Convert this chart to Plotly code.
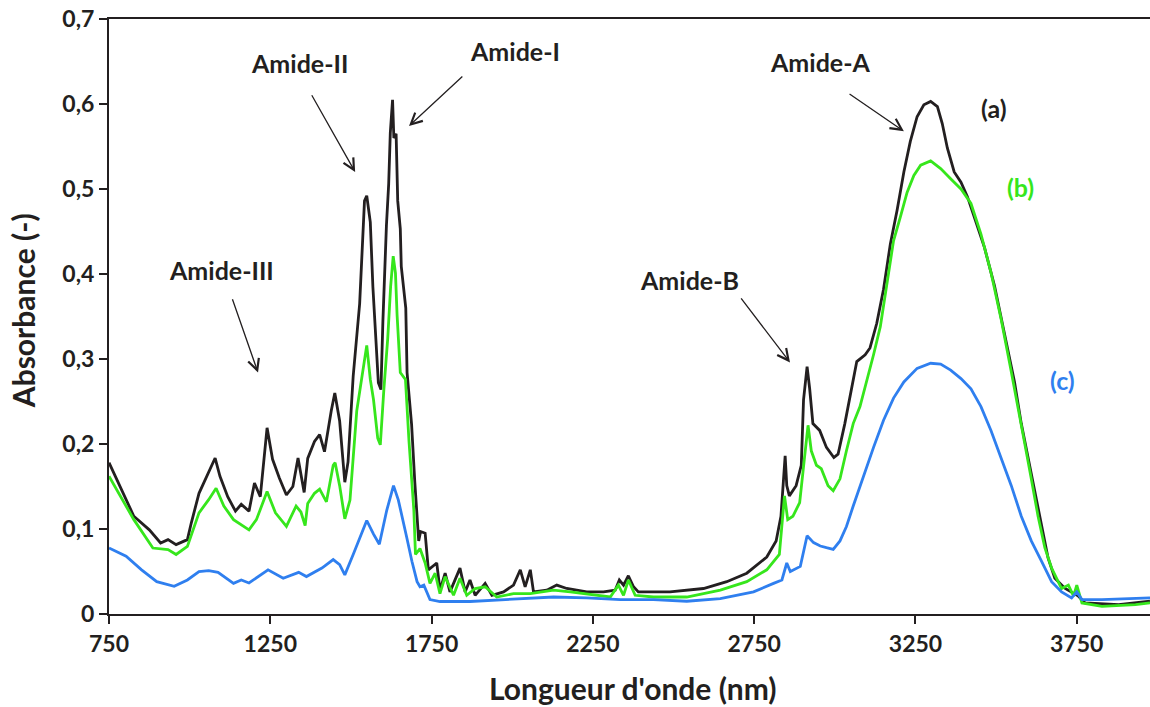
import plotly.graph_objects as go

# ---------------- data ----------------
x_a = [750, 827, 875, 910, 933, 958, 993, 1005, 1029, 1059, 1079, 1094, 1118, 1142, 1160, 1184,
       1201, 1219, 1240, 1257, 1278, 1300, 1320, 1336, 1355, 1366, 1387, 1403, 1418, 1439, 1450,
       1465, 1481, 1491, 1507, 1527, 1534, 1542, 1549, 1560, 1568, 1575, 1585, 1593, 1599, 1610,
       1617, 1622, 1629, 1633, 1640, 1645, 1653, 1656, 1670, 1674, 1688, 1698, 1704, 1710, 1716,
       1730, 1740, 1766, 1776, 1792, 1807, 1838, 1854, 1869, 1885, 1916, 1937, 1973, 2004, 2025,
       2040, 2056, 2066, 2107, 2138, 2169, 2231, 2283, 2319, 2332, 2345, 2360, 2376, 2391, 2489,
       2593, 2665, 2727, 2789, 2818, 2833, 2839, 2846, 2851, 2859, 2880, 2896, 2903, 2914, 2922,
       2932, 2953, 2974, 2997, 3010, 3031, 3047, 3068, 3094, 3109, 3130, 3151, 3172, 3193, 3214,
       3234, 3255, 3276, 3297, 3318, 3333, 3349, 3370, 3391, 3411, 3432, 3464, 3495, 3526, 3557,
       3578, 3599, 3620, 3641, 3661, 3682, 3714, 3755, 3776, 3880, 3977]
y_a = [0.178, 0.115, 0.099, 0.0835, 0.0875, 0.0816, 0.0875, 0.107, 0.142, 0.166, 0.1835, 0.162,
       0.138, 0.121, 0.129, 0.121, 0.154, 0.138, 0.219, 0.182, 0.160, 0.140, 0.150, 0.1835, 0.143,
       0.183, 0.203, 0.211, 0.191, 0.239, 0.260, 0.227, 0.155, 0.179, 0.280, 0.365, 0.425, 0.486,
       0.492, 0.461, 0.385, 0.340, 0.272, 0.264, 0.344, 0.457, 0.506, 0.566, 0.605, 0.560, 0.565,
       0.486, 0.453, 0.409, 0.360, 0.284, 0.223, 0.155, 0.122, 0.086, 0.097, 0.095, 0.052, 0.060,
       0.028, 0.048, 0.026, 0.054, 0.026, 0.040, 0.022, 0.036, 0.022, 0.026, 0.034, 0.052, 0.032,
       0.052, 0.026, 0.028, 0.034, 0.030, 0.026, 0.026, 0.028, 0.040, 0.034, 0.045, 0.032, 0.026,
       0.026, 0.030, 0.038, 0.048, 0.067, 0.086, 0.115, 0.151, 0.186, 0.151, 0.139, 0.151, 0.175,
       0.252, 0.291, 0.265, 0.224, 0.216, 0.196, 0.184, 0.188, 0.224, 0.256, 0.297, 0.305, 0.313,
       0.342, 0.382, 0.435, 0.475, 0.520, 0.556, 0.585, 0.599, 0.603, 0.597, 0.577, 0.548, 0.520,
       0.508, 0.491, 0.467, 0.431, 0.386, 0.329, 0.273, 0.224, 0.184, 0.143, 0.103, 0.066, 0.042,
       0.030, 0.021, 0.013, 0.011, 0.015]

x_b = [750, 827, 886, 933, 958, 993, 1029, 1059, 1082, 1106, 1136, 1160, 1184, 1207, 1240, 1266,
       1300, 1330, 1345, 1358, 1366, 1387, 1403, 1424, 1445, 1451, 1465, 1481, 1497, 1518, 1534,
       1549, 1560, 1570, 1583, 1591, 1602, 1614, 1623, 1631, 1638, 1643, 1653, 1669, 1680, 1695,
       1700, 1714, 1730, 1745, 1761, 1776, 1792, 1818, 1838, 1859, 1885, 1916, 1952, 2004, 2056,
       2128, 2180, 2252, 2304, 2329, 2345, 2360, 2381, 2438, 2541, 2645, 2727, 2789, 2828, 2844,
       2854, 2870, 2891, 2906, 2917, 2927, 2943, 2958, 2979, 2995, 3016, 3036, 3057, 3078, 3099,
       3120, 3141, 3161, 3182, 3203, 3224, 3245, 3266, 3297, 3328, 3359, 3391, 3422, 3453, 3484,
       3516, 3547, 3568, 3589, 3609, 3630, 3651, 3672, 3703, 3724, 3740, 3750, 3766, 3828, 3932,
       3977]
y_b = [0.162, 0.111, 0.0776, 0.0757, 0.070, 0.0796, 0.119, 0.1345, 0.148, 0.127, 0.111, 0.105,
       0.099, 0.111, 0.144, 0.119, 0.103, 0.127, 0.120, 0.104, 0.130, 0.142, 0.147, 0.132, 0.175,
       0.178, 0.151, 0.112, 0.134, 0.239, 0.280, 0.316, 0.276, 0.252, 0.207, 0.199, 0.264, 0.324,
       0.385, 0.421, 0.401, 0.352, 0.284, 0.276, 0.203, 0.122, 0.070, 0.077, 0.060, 0.036, 0.048,
       0.024, 0.044, 0.022, 0.042, 0.022, 0.030, 0.032, 0.020, 0.024, 0.024, 0.028, 0.026, 0.022,
       0.020, 0.034, 0.022, 0.040, 0.022, 0.020, 0.020, 0.028, 0.038, 0.052, 0.070, 0.139, 0.111,
       0.115, 0.131, 0.184, 0.222, 0.192, 0.175, 0.171, 0.151, 0.145, 0.159, 0.192, 0.224, 0.244,
       0.273, 0.305, 0.338, 0.386, 0.439, 0.467, 0.496, 0.516, 0.528, 0.533, 0.524, 0.512, 0.500,
       0.483, 0.447, 0.402, 0.346, 0.285, 0.240, 0.200, 0.159, 0.115, 0.078, 0.054, 0.030, 0.034,
       0.021, 0.034, 0.013, 0.009, 0.011, 0.013]

x_c = [750, 803, 851, 898, 952, 993, 1029, 1059, 1088, 1136, 1160, 1184, 1243, 1290, 1338, 1362,
       1410, 1445, 1465, 1481, 1507, 1528, 1549, 1570, 1588, 1611, 1632, 1647, 1658, 1673, 1689,
       1705, 1714, 1726, 1745, 1776, 1869, 1973, 2128, 2231, 2335, 2438, 2541, 2645, 2748, 2810,
       2836, 2851, 2862, 2893, 2914, 2934, 2955, 2974, 2995, 3016, 3036, 3057, 3089, 3120, 3151,
       3182, 3214, 3255, 3297, 3328, 3359, 3391, 3422, 3453, 3484, 3516, 3547, 3578, 3609, 3641,
       3672, 3703, 3734, 3750, 3766, 3828, 3977]
y_c = [0.0776, 0.068, 0.052, 0.038, 0.0325, 0.040, 0.050, 0.051, 0.049, 0.036, 0.040, 0.0365,
       0.052, 0.042, 0.049, 0.044, 0.054, 0.064, 0.058, 0.046, 0.070, 0.090, 0.110, 0.094, 0.082,
       0.122, 0.151, 0.134, 0.114, 0.090, 0.062, 0.038, 0.032, 0.034, 0.017, 0.0147, 0.0147, 0.017,
       0.020, 0.019, 0.017, 0.017, 0.015, 0.018, 0.026, 0.036, 0.040, 0.060, 0.050, 0.056, 0.092,
       0.084, 0.080, 0.078, 0.076, 0.086, 0.103, 0.127, 0.163, 0.196, 0.228, 0.254, 0.273, 0.289,
       0.295, 0.294, 0.287, 0.277, 0.265, 0.244, 0.216, 0.184, 0.151, 0.115, 0.086, 0.062, 0.038,
       0.026, 0.019, 0.026, 0.017, 0.017, 0.019]

series_names = ["(a)", "(b)", "(c)"]
series_colors = ["#231f20", "#36e61c", "#2f7fef"]

x_tick_vals = [750, 1250, 1750, 2250, 2750, 3250, 3750]
x_tick_text = ["750", "1250", "1750", "2250", "2750", "3250", "3750"]
y_tick_vals = [0, 0.1, 0.2, 0.3, 0.4, 0.5, 0.6, 0.7]
y_tick_text = ["0", "0,1", "0,2", "0,3", "0,4", "0,5", "0,6", "0,7"]

x_title = "Longueur d'onde (nm)"
y_title = "Absorbance (-)"

# band labels: text centre and arrow tail -> head (data units)
band_labels = ["Amide-III", "Amide-II", "Amide-I", "Amide-A", "Amide-B"]
band_text_x = [1100, 1342, 2008, 2954, 2551]
band_text_y = [0.405, 0.648, 0.662, 0.649, 0.393]
arrow_tail_x = [1131, 1376, 1850, 3041, 2706]
arrow_tail_y = [0.372, 0.612, 0.634, 0.613, 0.373]
arrow_head_x = [1212, 1513, 1680, 3214, 2861]
arrow_head_y = [0.284, 0.520, 0.574, 0.568, 0.296]

curve_label_x = [3493, 3577, 3707]
curve_label_y = [0.595, 0.502, 0.275]

# ---------------- figure ----------------
fig = go.Figure()
for xs, ys, name, col in zip([x_a, x_b, x_c], [y_a, y_b, y_c], series_names, series_colors):
    fig.add_trace(go.Scatter(x=xs, y=ys, mode="lines", name=name,
                             line=dict(color=col, width=2.8), showlegend=False))

FONT = "Lato, 'Open Sans', sans-serif"
TXT = "#231f20"

annotations = []
for lab, tx, ty in zip(band_labels, band_text_x, band_text_y):
    annotations.append(dict(x=tx, y=ty, xref="x", yref="y", text=f"<b>{lab}</b>",
                            showarrow=False, font=dict(family=FONT, size=25, color=TXT)))
for hx, hy, tx, ty in zip(arrow_head_x, arrow_head_y, arrow_tail_x, arrow_tail_y):
    annotations.append(dict(x=hx, y=hy, ax=tx, ay=ty, xref="x", yref="y", axref="x", ayref="y",
                            text="", showarrow=True, arrowhead=5, arrowsize=1.7, arrowwidth=1.3,
                            arrowcolor="#231f20", standoff=0, startstandoff=0))
for name, col, lx, ly in zip(series_names, series_colors, curve_label_x, curve_label_y):
    annotations.append(dict(x=lx, y=ly, xref="x", yref="y", text=f"<b>{name}</b>",
                            showarrow=False, font=dict(family=FONT, size=25, color=col)))

# axis titles
annotations.append(dict(x=0.5034, y=-0.1245, xref="paper", yref="paper", text=f"<b>{x_title}</b>",
                        xanchor="center", yanchor="middle", showarrow=False,
                        font=dict(family=FONT, size=30, color=TXT)))
annotations.append(dict(x=-0.0826, y=0.509, xref="paper", yref="paper", text=f"<b>{y_title}</b>",
                        xanchor="center", yanchor="middle", textangle=-90, showarrow=False,
                        font=dict(family=FONT, size=30, color=TXT)))

fig.update_layout(
    width=1150, height=707,
    margin=dict(l=109, r=0, t=19, b=93),
    paper_bgcolor="white", plot_bgcolor="white",
    annotations=annotations,
    xaxis=dict(range=[750, 3977], tickvals=x_tick_vals,
               ticktext=[f"<b>{t}</b>" for t in x_tick_text], automargin=False,
               showgrid=False, zeroline=False, showline=True, linecolor=TXT, linewidth=2,
               mirror=True, ticks="outside", ticklen=8, tickwidth=1.5, tickcolor=TXT,
               tickfont=dict(family=FONT, size=23, color=TXT)),
    yaxis=dict(range=[0, 0.7], tickvals=y_tick_vals,
               ticktext=[f"<b>{t}</b>" for t in y_tick_text], automargin=False,
               showgrid=False, zeroline=False, showline=True, linecolor=TXT, linewidth=2,
               ticks="outside", ticklen=8, tickwidth=1.5, tickcolor=TXT,
               tickfont=dict(family=FONT, size=23, color=TXT)),
)

fig.write_html("out.html", config={"displayModeBar": False},
               post_script="document.body.style.margin='0';")
